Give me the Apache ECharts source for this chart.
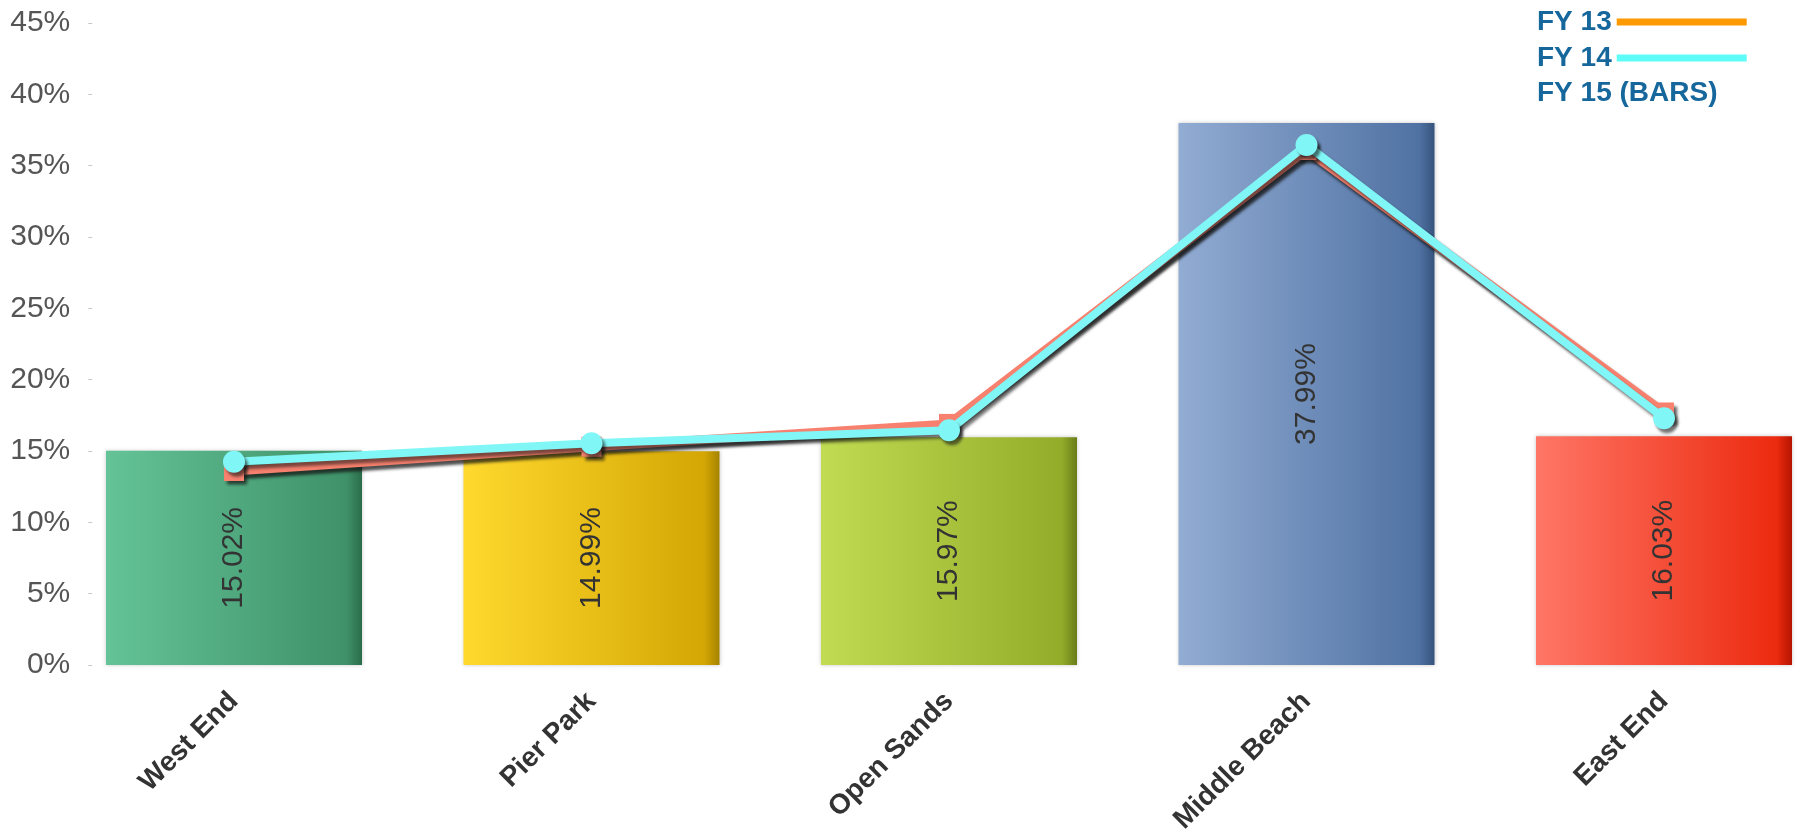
<!DOCTYPE html>
<html>
<head>
<meta charset="utf-8">
<style>
  html, body { margin: 0; padding: 0; background: #ffffff; }
  #chart { width: 1800px; height: 829px; }
</style>
<script src="https://cdn.jsdelivr.net/npm/echarts@6/dist/echarts.min.js"></script>
</head>
<body>
<div id="chart"></div>
<script>
// Beach areas along the x axis
const categories = ['West End', 'Pier Park', 'Open Sands', 'Middle Beach', 'East End'];

// FY 15 shares, drawn as bars (percent)
const fy15Bars = [15.02, 14.99, 15.97, 37.99, 16.03];

// FY 13 and FY 14 shares, drawn as lines (percent)
const fy13Line = [13.6, 15.3, 16.9, 36.1, 17.7];
const fy14Line = [14.25, 15.55, 16.45, 36.45, 17.3];

// Y axis ticks
const yTicks = [0, 5, 10, 15, 20, 25, 30, 35, 40, 45];

// Legend entries (name, swatch colour; null = no swatch)
const legendNames = ['FY 13', 'FY 14', 'FY 15 (BARS)'];
const legendSwatches = ['#ff9900', '#5efcf8', null];

// Bar gradient colours: light left edge, darker body, darkest right rim
const barShades = [
  ['#64c497', '#3f9169', '#2b6c4a'],
  ['#ffd92e', '#d4a704', '#a68300'],
  ['#c1db52', '#93ad2a', '#687c17'],
  ['#92acd3', '#5072a3', '#36537c'],
  ['#ff7666', '#ec2b10', '#b51400']
];

const FONT = '"Liberation Sans", Arial, sans-serif';

function barGradient(c) {
  return new echarts.graphic.LinearGradient(0, 0, 1, 0, [
    { offset: 0, color: c[0] },
    { offset: 0.94, color: c[1] },
    { offset: 1, color: c[2] }
  ]);
}

// One legend block per entry so every label starts at the same left edge
const legendTops = [2, 38, 73];
const legends = legendNames.map(function (name, i) {
  const sw = legendSwatches[i];
  return {
    orient: 'vertical',
    left: 1532,
    top: legendTops[i],
    align: 'right',
    selectedMode: false,
    itemWidth: sw ? 130 : 1,
    itemHeight: 7,
    textStyle: {
      fontFamily: FONT,
      fontSize: 28,
      fontWeight: 'bold',
      color: '#16679c',
      lineHeight: 30
    },
    data: [{
      name: name,
      icon: 'rect',
      itemStyle: sw
        ? { color: sw, borderWidth: 0, shadowBlur: 0 }
        : { color: 'rgba(0,0,0,0)', opacity: 0, borderWidth: 0, shadowBlur: 0 },
      lineStyle: { width: 0 }
    }]
  };
});

const chart = echarts.init(document.getElementById('chart'), null, { renderer: 'canvas' });

chart.setOption({
  backgroundColor: '#ffffff',
  animation: false,
  legend: legends,
  grid: {
    left: 55.25,
    width: 1787.5,
    top: 23,
    height: 642,
    outerBoundsMode: 'none',
    containLabel: false
  },
  xAxis: {
    type: 'category',
    data: categories,
    axisLine: { show: false },
    axisTick: { show: false },
    axisLabel: {
      rotate: 45,
      margin: 32,
      interval: 0,
      fontFamily: FONT,
      fontSize: 28,
      fontWeight: 'bold',
      color: '#333333'
    }
  },
  yAxis: {
    type: 'value',
    min: 0,
    max: 45,
    interval: 5,
    offset: -37,
    axisLine: { show: false },
    axisTick: { show: true, length: 4, lineStyle: { color: '#c8c8c8', width: 1 } },
    splitLine: { show: false },
    axisLabel: {
      margin: 22,
      fontFamily: FONT,
      fontSize: 30,
      color: '#555555',
      formatter: function (v) { return yTicks.indexOf(v) >= 0 ? v + '%' : ''; }
    }
  },
  series: [
    {
      name: 'FY 15 (BARS)',
      type: 'bar',
      barWidth: 256,
      z: 2,
      data: fy15Bars.map(function (v, i) {
        return {
          value: v,
          itemStyle: {
            color: barGradient(barShades[i]),
            shadowColor: 'rgba(0,0,0,0.22)',
            shadowBlur: 4
          }
        };
      }),
      label: {
        show: true,
        position: 'inside',
        rotate: 90,
        fontFamily: FONT,
        fontSize: 30,
        color: '#333333',
        formatter: function (p) { return p.value.toFixed(2) + '%'; }
      }
    },
    {
      name: 'FY 13',
      type: 'line',
      z: 3,
      data: fy13Line,
      symbol: 'rect',
      symbolSize: 20,
      lineStyle: {
        color: '#f7806e',
        width: 9,
        shadowColor: 'rgba(20,20,20,0.75)',
        shadowBlur: 3,
        shadowOffsetX: 3,
        shadowOffsetY: 4
      },
      itemStyle: {
        color: '#f7806e',
        borderWidth: 0,
        shadowColor: 'rgba(20,20,20,0.7)',
        shadowBlur: 3,
        shadowOffsetX: 3,
        shadowOffsetY: 4
      }
    },
    {
      name: 'FY 14',
      type: 'line',
      z: 4,
      data: fy14Line,
      symbol: 'circle',
      symbolSize: 22,
      lineStyle: {
        color: '#80f6f6',
        width: 8,
        shadowColor: 'rgba(20,20,20,0.55)',
        shadowBlur: 3,
        shadowOffsetX: 3,
        shadowOffsetY: 4
      },
      itemStyle: {
        color: '#80f6f6',
        borderWidth: 0,
        shadowColor: 'rgba(20,20,20,0.6)',
        shadowBlur: 3,
        shadowOffsetX: 3,
        shadowOffsetY: 4
      }
    }
  ]
});
</script>
</body>
</html>
